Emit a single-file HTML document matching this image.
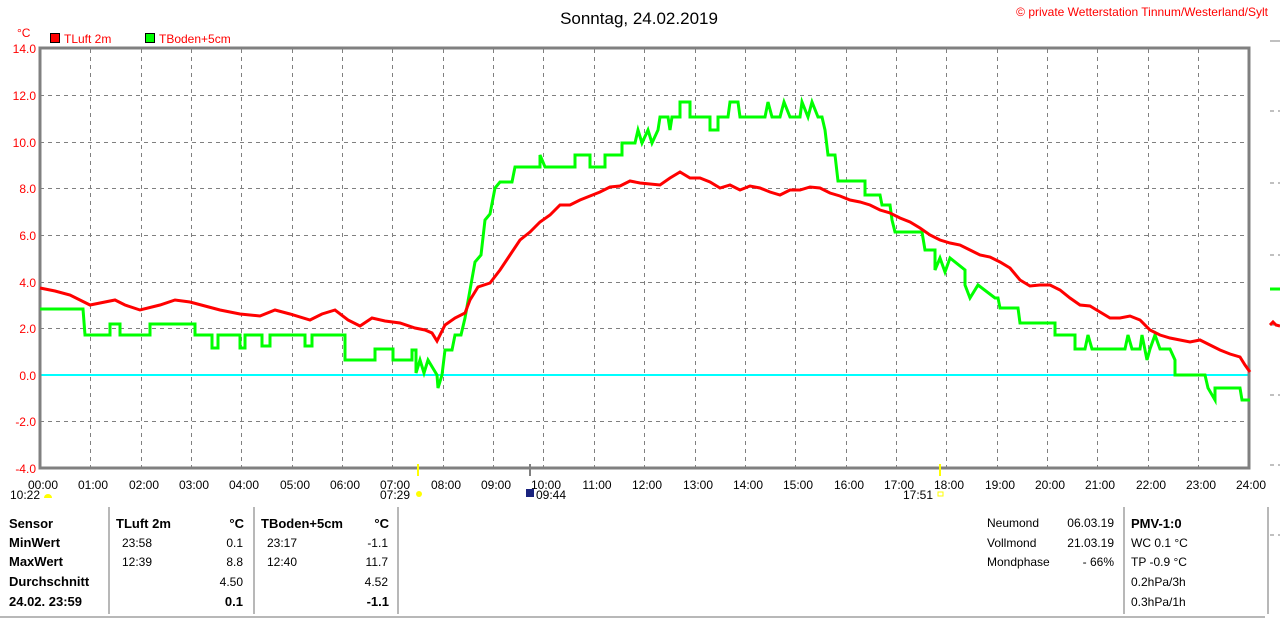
<!DOCTYPE html><html><head><meta charset="utf-8"><style>
body{margin:0;background:#fff;width:1280px;height:621px;overflow:hidden}
svg{display:block;font-family:"Liberation Sans",sans-serif}
</style></head><body>
<svg width="1280" height="621" xmlns="http://www.w3.org/2000/svg">
<text x="639" y="24" font-size="17" text-anchor="middle" fill="#000">Sonntag, 24.02.2019</text>
<text x="1268" y="16" font-size="12" text-anchor="end" fill="#f00">© private Wetterstation Tinnum/Westerland/Sylt</text>
<text x="17" y="37" font-size="12" fill="#f00">°C</text>
<rect x="50.5" y="33.5" width="9" height="9" fill="#f00" stroke="#000"/>
<text x="64" y="43" font-size="12" fill="#f00">TLuft 2m</text>
<rect x="145.5" y="33.5" width="9" height="9" fill="#0f0" stroke="#000"/>
<text x="159" y="43" font-size="12" fill="#f00">TBoden+5cm</text>
<g stroke="#808080" stroke-dasharray="4,4" stroke-width="1">
<path d="M40 95.5H1249M40 142.5H1249M40 188.5H1249M40 235.5H1249M40 282.5H1249M40 328.5H1249M40 421.5H1249"/>
<path d="M90.5 49V468M141.5 49V468M191.5 49V468M241.5 49V468M292.5 49V468M342.5 49V468M392.5 49V468M443.5 49V468M493.5 49V468M543.5 49V468M594.5 49V468M644.5 49V468M695.5 49V468M745.5 49V468M795.5 49V468M846.5 49V468M896.5 49V468M946.5 49V468M997.5 49V468M1047.5 49V468M1097.5 49V468M1148.5 49V468M1198.5 49V468"/>
</g>
<line x1="40" y1="375" x2="1249" y2="375" stroke="#0ff" stroke-width="2"/>
<rect x="40" y="48" width="1209" height="420" fill="none" stroke="#808080" stroke-width="3"/>
<g font-size="12" fill="#f00" text-anchor="end">
<text x="36" y="53">14.0</text><text x="36" y="100">12.0</text><text x="36" y="147">10.0</text><text x="36" y="193">8.0</text><text x="36" y="240">6.0</text><text x="36" y="287">4.0</text><text x="36" y="333">2.0</text><text x="36" y="380">0.0</text><text x="36" y="426">-2.0</text><text x="36" y="473">-4.0</text>
</g>
<g font-size="12" fill="#000" text-anchor="middle">
<text x="43" y="489">00:00</text><text x="93" y="489">01:00</text><text x="144" y="489">02:00</text><text x="194" y="489">03:00</text><text x="244" y="489">04:00</text><text x="295" y="489">05:00</text><text x="345" y="489">06:00</text><text x="395" y="489">07:00</text><text x="446" y="489">08:00</text><text x="496" y="489">09:00</text><text x="546" y="489">10:00</text><text x="597" y="489">11:00</text><text x="647" y="489">12:00</text><text x="698" y="489">13:00</text><text x="748" y="489">14:00</text><text x="798" y="489">15:00</text><text x="849" y="489">16:00</text><text x="899" y="489">17:00</text><text x="949" y="489">18:00</text><text x="1000" y="489">19:00</text><text x="1050" y="489">20:00</text><text x="1100" y="489">21:00</text><text x="1151" y="489">22:00</text><text x="1201" y="489">23:00</text><text x="1251" y="489">24:00</text>
</g>
<g font-size="12" fill="#000">
<text x="10" y="499">10:22</text><text x="380" y="499">07:29</text><text x="536" y="499">09:44</text><text x="903" y="499">17:51</text>
</g>
<path d="M44 498a4 4 0 0 1 8 0z" fill="#ff0"/>
<circle cx="419" cy="494" r="3" fill="#ff0"/>
<rect x="526" y="489" width="8" height="8" fill="#1a237e"/>
<rect x="938" y="492" width="5" height="4" fill="none" stroke="#ff0"/>
<line x1="418" y1="464" x2="418" y2="476" stroke="#ff0" stroke-width="2"/>
<line x1="940" y1="464" x2="940" y2="476" stroke="#ff0" stroke-width="2"/>
<line x1="530" y1="464" x2="530" y2="476" stroke="#808080" stroke-width="2"/>
<polyline fill="none" stroke="#0f0" stroke-width="3" points="40,309 83,309 85,335 110,335 110,324 120,324 120,335 150,335 150,324 195,324 195,335 212,335 212,348 218,348 218,335 240,335 240,348 245,348 245,335 262,335 262,346 270,346 270,335 305,335 305,346 312,346 312,335 345,335 345,360 375,360 375,349 393,349 393,360 412,360 412,350 416,350 416,373 420,360 424,373 428,360 437,375 438,388 442,375 445,350 452,350 455,335 461,335 465,318 470,290 475,262 481,255 485,220 490,214 495,188 500,182 512,182 515,167 540,167 540,155 545,167 575,167 575,155 590,155 590,167 605,167 605,155 622,155 622,143 635,143 638,130 642,143 648,130 652,143 658,130 660,117 668,117 670,130 672,117 680,117 680,102 690,102 690,117 710,117 710,130 718,130 718,117 728,117 730,102 738,102 740,117 765,117 768,102 772,117 780,117 784,102 790,117 800,117 802,102 808,117 812,102 818,117 822,117 825,130 828,155 835,155 838,181 865,181 865,195 880,195 882,205 890,205 892,220 895,232 922,232 925,250 935,250 935,270 940,258 945,272 950,258 965,270 965,285 970,298 978,285 995,298 998,298 1000,308 1018,308 1020,323 1055,323 1055,335 1075,335 1075,349 1085,349 1088,335 1092,349 1125,349 1128,335 1132,349 1140,349 1142,335 1147,360 1150,349 1155,335 1160,349 1170,349 1175,360 1175,375 1205,375 1208,388 1215,400 1215,388 1240,388 1242,400 1250,400"/>
<polyline fill="none" stroke="#f00" stroke-width="3" points="40,288 55,291 70,295 90,305 100,303 115,300 125,305 140,310 160,305 175,300 190,302 205,306 220,310 240,314 260,316 275,310 290,314 310,320 322,314 335,310 348,320 360,326 372,318 385,321 400,323 415,328 425,330 432,333 437,341 445,325 455,318 465,313 470,300 478,287 490,283 500,270 510,255 520,240 530,232 540,222 550,215 560,205 570,205 580,200 590,196 600,192 610,187 620,186 630,181 640,183 650,184 660,185 670,178 680,172 690,178 700,178 710,182 720,188 730,185 740,190 750,186 760,188 770,192 780,195 790,190 800,190 810,187 820,188 830,193 840,196 850,200 860,202 870,205 880,210 890,213 900,218 910,222 920,228 930,235 940,240 950,243 960,245 970,250 980,255 990,257 1000,262 1010,268 1020,280 1030,286 1040,285 1050,285 1060,290 1070,298 1080,305 1090,306 1100,312 1110,318 1120,318 1130,316 1140,320 1150,330 1160,335 1170,338 1180,340 1190,342 1200,340 1210,345 1220,350 1230,354 1240,357 1245,365 1250,372"/>
<g stroke="#808080" stroke-dasharray="4,4"><path d="M1270 111H1280M1270 183H1280M1270 255H1280M1270 325H1280M1270 395H1280M1270 465H1280M1270 535H1280"/></g>
<line x1="1270" y1="41" x2="1280" y2="41" stroke="#808080"/>
<line x1="1270" y1="289" x2="1280" y2="289" stroke="#0f0" stroke-width="3"/>
<path d="M1270 325l3-3 3 3 4 1" fill="none" stroke="#f00" stroke-width="3"/>
<g stroke="#a0a0a0" stroke-width="1.5"><path d="M109 507V614M254 507V614M398 507V614M1124 507V614M1268 507V614M0 617H1265"/></g>
<g font-size="13" font-weight="bold" fill="#000">
<text x="9" y="528">Sensor</text><text x="9" y="547">MinWert</text><text x="9" y="566">MaxWert</text><text x="9" y="586">Durchschnitt</text><text x="9" y="606">24.02. 23:59</text>
<text x="116" y="528">TLuft 2m</text><text x="244" y="528" text-anchor="end">°C</text>
<text x="261" y="528">TBoden+5cm</text><text x="389" y="528" text-anchor="end">°C</text>
<text x="243" y="606" text-anchor="end">0.1</text><text x="389" y="606" text-anchor="end">-1.1</text>
<text x="1131" y="528">PMV-1:0</text>
</g>
<g font-size="12" fill="#000">
<text x="122" y="547">23:58</text><text x="243" y="547" text-anchor="end">0.1</text>
<text x="122" y="566">12:39</text><text x="243" y="566" text-anchor="end">8.8</text>
<text x="243" y="586" text-anchor="end">4.50</text>
<text x="267" y="547">23:17</text><text x="388" y="547" text-anchor="end">-1.1</text>
<text x="267" y="566">12:40</text><text x="388" y="566" text-anchor="end">11.7</text>
<text x="388" y="586" text-anchor="end">4.52</text>
<text x="987" y="527">Neumond</text><text x="1114" y="527" text-anchor="end">06.03.19</text>
<text x="987" y="547">Vollmond</text><text x="1114" y="547" text-anchor="end">21.03.19</text>
<text x="987" y="566">Mondphase</text><text x="1114" y="566" text-anchor="end">- 66%</text>
<text x="1131" y="547">WC 0.1 °C</text><text x="1131" y="566">TP -0.9 °C</text><text x="1131" y="586">0.2hPa/3h</text><text x="1131" y="606">0.3hPa/1h</text>
</g>
</svg>
</body></html>
